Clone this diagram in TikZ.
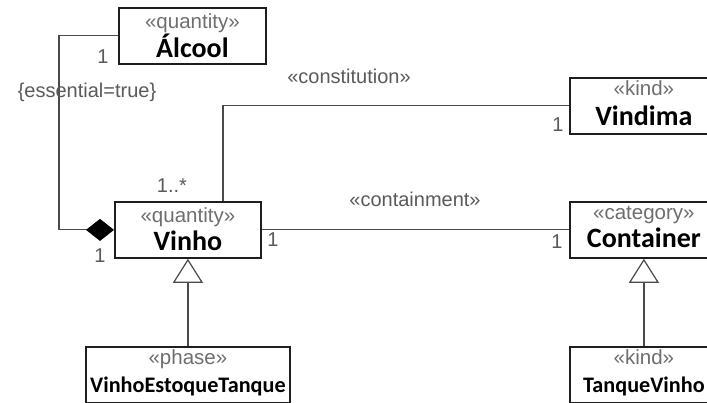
\documentclass[tikz,border=0pt]{standalone}
\usepackage{fontspec}
\setmainfont{Liberation Sans}
\newfontfamily\classfont{Carlito}
\usetikzlibrary{arrows.meta}

\definecolor{boxline}{HTML}{1E1E1E}
\definecolor{wire}{HTML}{4A4A4A}
\definecolor{stereogrey}{HTML}{6E6E6E}
\definecolor{labelgrey}{HTML}{5A5A5A}

\begin{document}
\begin{tikzpicture}[x=1pt, y=-1pt,
  classbox/.style={draw=boxline, line width=1.8pt, fill=white,
    minimum width=#1pt, minimum height=56pt, inner sep=0pt, anchor=north west},
  stereotext/.style={text=stereogrey, font=\fontsize{20.5}{22}\selectfont, inner sep=0pt, anchor=base},
  bigname/.style={text=black, font=\classfont\bfseries\fontsize{28}{30}\selectfont, inner sep=0pt, anchor=base},
  smallname/.style={text=black, font=\classfont\bfseries\fontsize{22.2}{24}\selectfont, inner sep=0pt, anchor=base},
  assoclabel/.style={text=labelgrey, font=\fontsize{20}{22}\selectfont, inner sep=0pt},
  wireline/.style={draw=wire, line width=1.2pt},
  composition/.style={wireline, -{Diamond[length=28pt, width=22pt, fill=black, color=black]}},
  generalization/.style={wireline, -{Triangle[length=24pt, width=30pt, fill=white]}}
]
\useasboundingbox (0,0) rectangle (707,403);
\clip (0,0) rectangle (707,403);
\fill[white] (0,0) rectangle (707,403);

% class boxes
\node[classbox=147] (alcool) at (118,7) {};
\node[classbox=146] (vinho) at (114,201) {};
\node[classbox=148] (vindima) at (569,77) {};
\node[classbox=148] (container) at (569,201) {};
\node[classbox=204] (estoque) at (85,346) {};
\node[classbox=148] (tanque) at (569,346) {};

% stereotypes and class names
\node[stereotext] (alcool-st) at ([yshift=-22pt]alcool.north) {«quantity»};
\node[bigname] (alcool-nm) at ([yshift=-51pt]alcool.north) {Álcool};

\node[stereotext] (vinho-st) at ([yshift=-22pt]vinho.north) {«quantity»};
\node[bigname] (vinho-nm) at ([yshift=-50pt]vinho.north) {Vinho};

\node[stereotext] (vindima-st) at ([yshift=-19pt]vindima.north) {«kind»};
\node[bigname] (vindima-nm) at ([yshift=-49pt]vindima.north) {Vindima};

\node[stereotext] (container-st) at ([yshift=-19pt]container.north) {«category»};
\node[bigname] (container-nm) at ([yshift=-47pt]container.north) {Container};

\node[stereotext] (estoque-st) at ([yshift=-18pt]estoque.north) {«phase»};
\node[smallname] (estoque-nm) at ([yshift=-46pt]estoque.north) {VinhoEstoqueTanque};

\node[stereotext] (tanque-st) at ([yshift=-18pt]tanque.north) {«kind»};
\node[smallname] (tanque-nm) at ([yshift=-46pt]tanque.north) {TanqueVinho};

% connectors
\draw[composition] (alcool.west) -- ++(-59,0) |- (vinho.west);
\draw[wireline] ([xshift=35pt]vinho.north) |- (vindima.west);
\draw[wireline] (vinho.east) -- (container.west);
\draw[generalization] (estoque.north) -- (vinho.south);
\draw[generalization] (tanque.north) -- (container.south);

% association labels
\node[assoclabel] (m-alcool) at (103,57) {1};
\node[assoclabel] (essential) at (87,92) {\{essential=true\}};
\node[assoclabel] (m-diamond) at (100,256) {1};
\node[assoclabel] (m-many) at (172,186) {1..*};
\node[assoclabel] (constitution) at (349,76) {«constitution»};
\node[assoclabel] (m-vindima) at (558,125) {1};
\node[assoclabel] (containment) at (415,199) {«containment»};
\node[assoclabel] (m-vinho) at (273,240) {1};
\node[assoclabel] (m-container) at (557,242) {1};
\end{tikzpicture}
\end{document}
